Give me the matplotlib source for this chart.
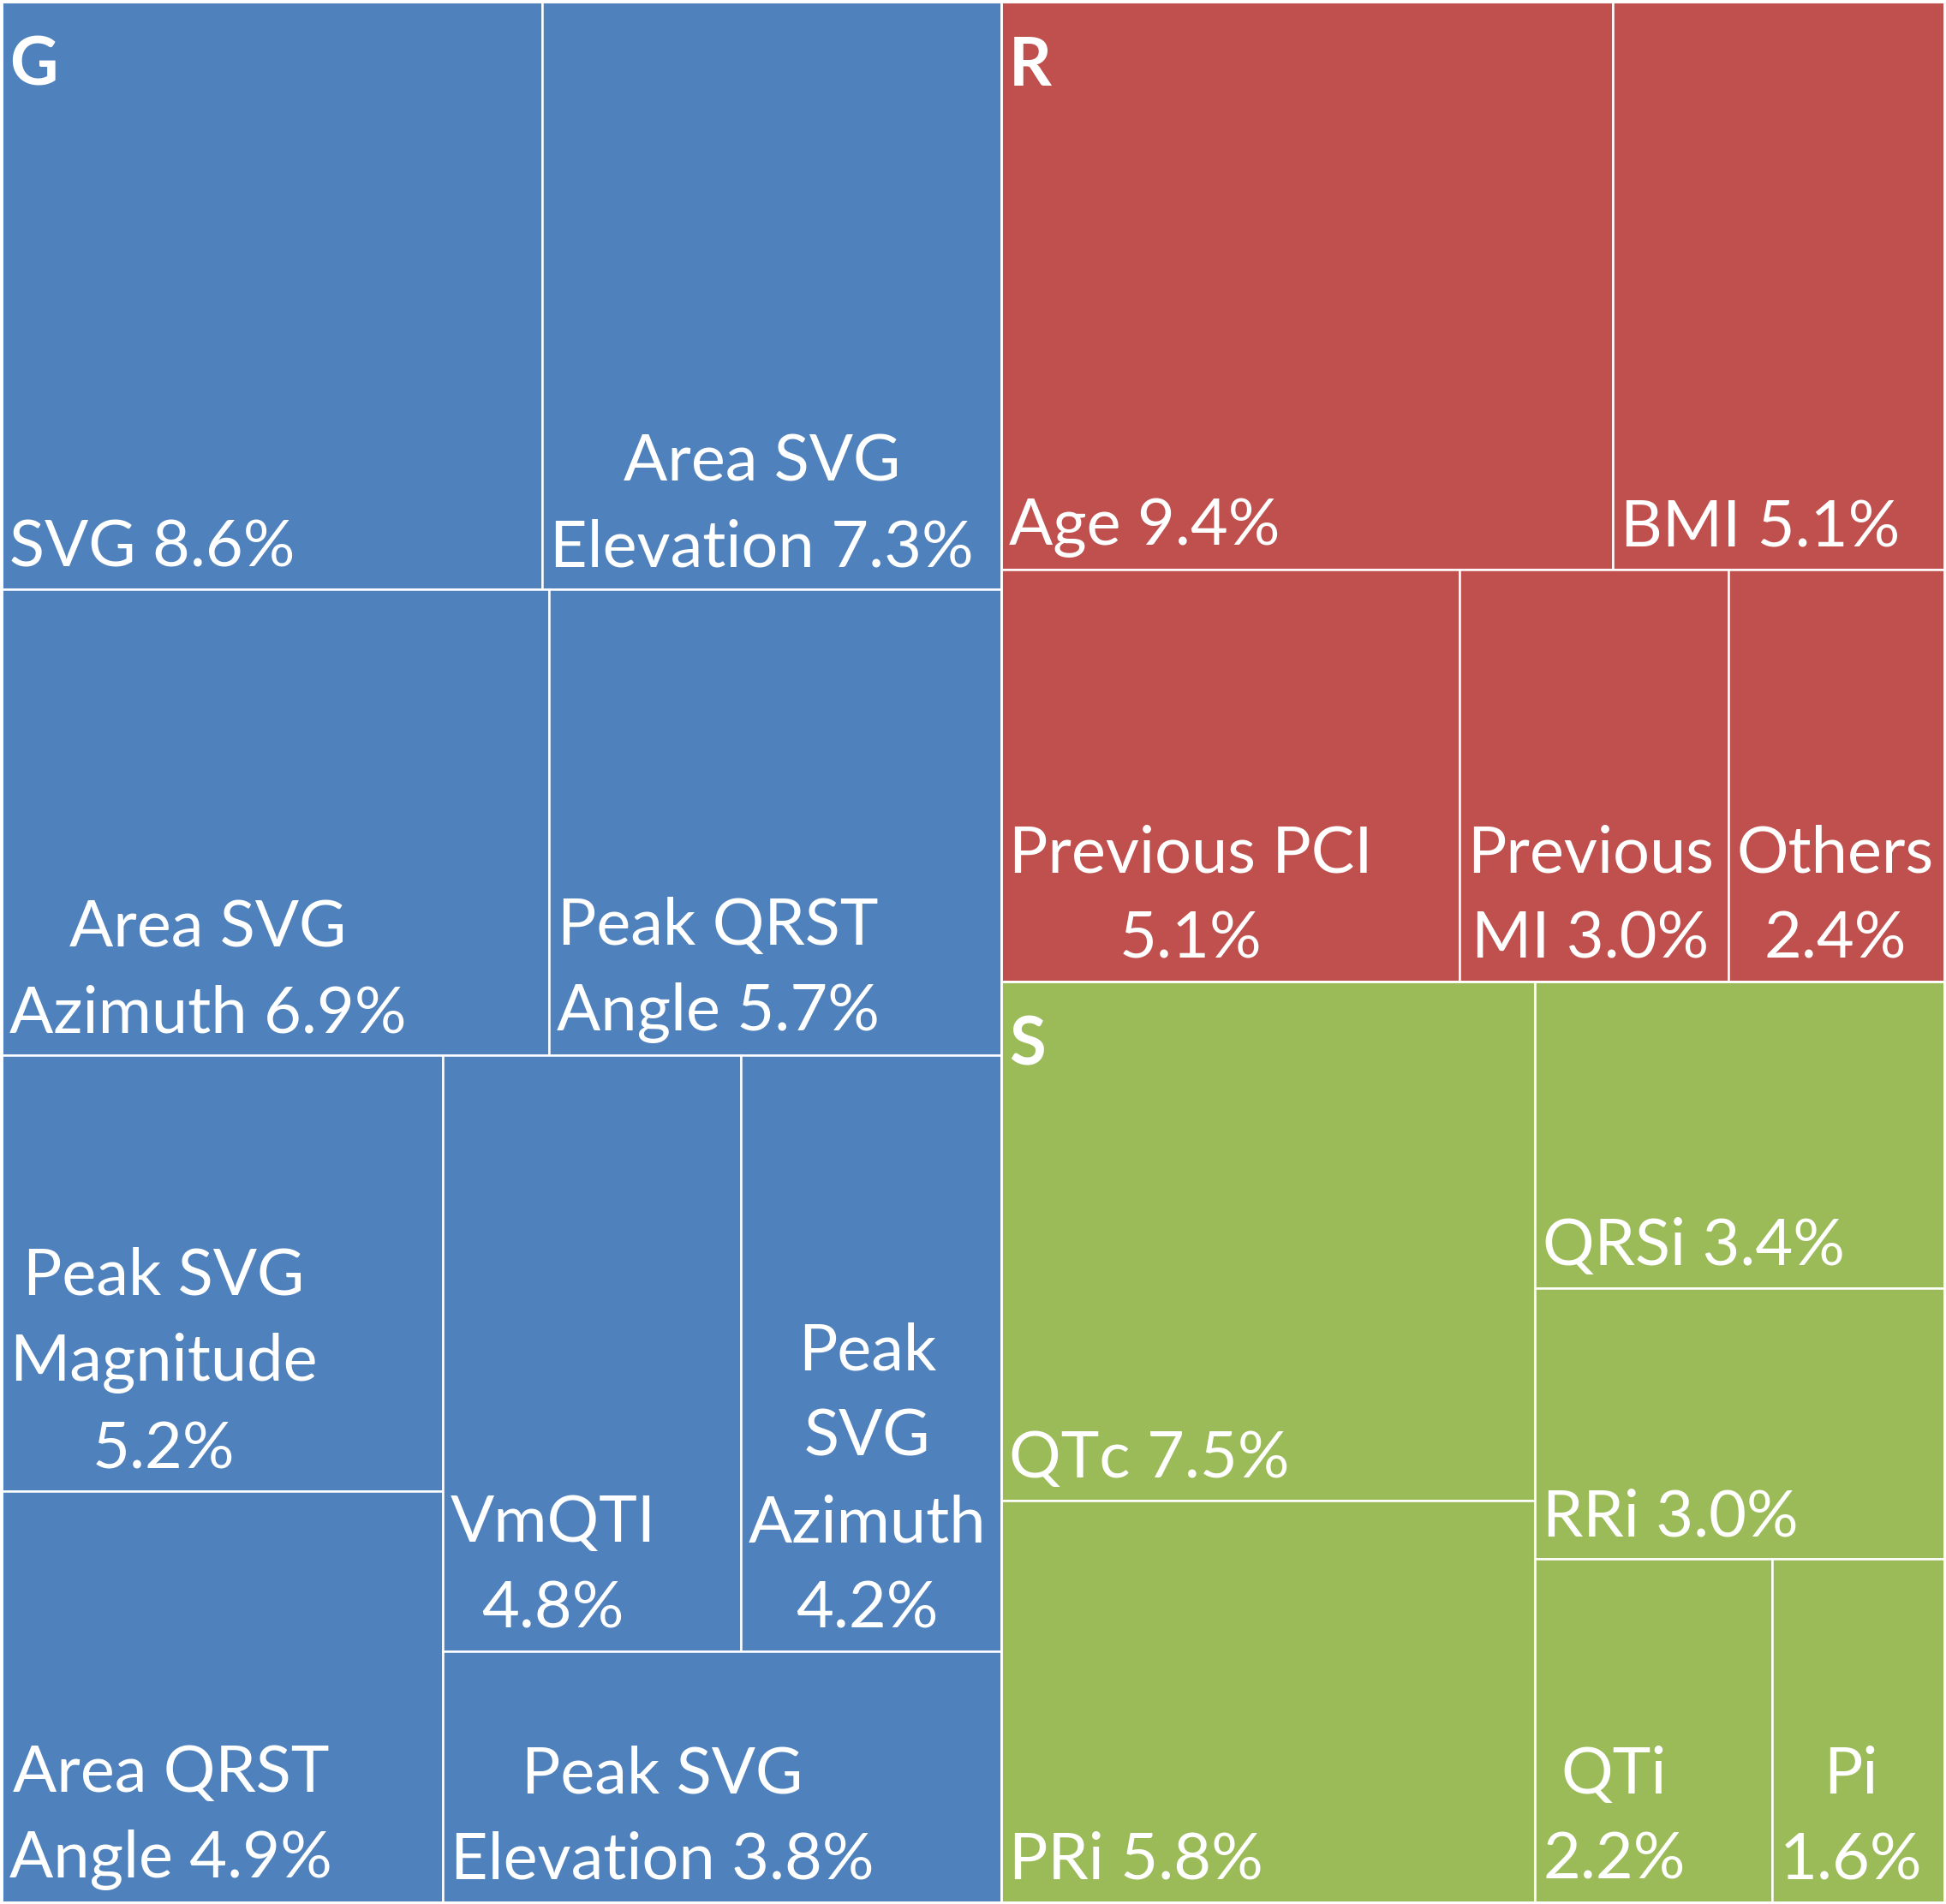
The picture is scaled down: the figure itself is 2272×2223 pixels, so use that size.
import matplotlib
matplotlib.use("Agg")
import matplotlib.pyplot as plt
from matplotlib.patches import Rectangle

# ---- data ----
groups = ["G", "R", "S"]
group_colors = ["#4F81BD", "#C0504D", "#9BBB59"]

G_labels = ["SVG {}", "Area SVG\nElevation {}", "Area SVG\nAzimuth {}",
            "Peak QRST\nAngle {}", "Peak SVG\nMagnitude\n{}", "Area QRST\nAngle {}",
            "VmQTI\n{}", "Peak\nSVG\nAzimuth\n{}", "Peak SVG\nElevation {}"]
G_values = [8.6, 7.3, 6.9, 5.7, 5.2, 4.9, 4.8, 4.2, 3.8]

R_labels = ["Age {}", "BMI {}", "Previous PCI\n{}", "Previous\nMI {}", "Others\n{}"]
R_values = [9.4, 5.1, 5.1, 3.0, 2.4]

S_labels = ["QTc {}", "PRi {}", "QRSi {}", "RRi {}", "QTi\n{}", "Pi\n{}"]
S_values = [7.5, 5.8, 3.4, 3.0, 2.2, 1.6]

# number of items placed in each successive strip of the layout
top_strips = [1, 1, 1]
G_strips = [2, 2, 2, 2, 1]
R_strips = [2, 1, 1, 1]
S_strips = [2, 1, 1, 1, 1]

W, H = 2272, 2223
FONT = ["Lato", "DejaVu Sans"]


def strip_layout(x, y, w, h, values, counts):
    """Squarified-style strip layout: each strip is laid along the shorter side."""
    rects = []
    total = float(sum(values))
    i = 0
    for c in counts:
        part = values[i:i + c]
        s = float(sum(part))
        frac = s / total
        if w >= h:  # vertical strip on the left
            sw = w * frac
            yy = y
            for v in part:
                vh = h * v / s
                rects.append((x, yy, sw, vh))
                yy += vh
            x += sw
            w -= sw
        else:  # horizontal strip on top
            sh = h * frac
            xx = x
            for v in part:
                vw = w * v / s
                rects.append((xx, y, vw, sh))
                xx += vw
            y += sh
            h -= sh
        total -= s
        i += c
    return rects


fig = plt.figure(figsize=(W / 100, H / 100), dpi=100)
fig.patch.set_facecolor("white")
ax = fig.add_axes([0, 0, 1, 1])
ax.set_xlim(0, W)
ax.set_ylim(H, 0)
ax.axis("off")

group_data = [(G_labels, G_values, G_strips),
              (R_labels, R_values, R_strips),
              (S_labels, S_values, S_strips)]
group_totals = [sum(v) for _, v, _ in group_data]
margin = 2
group_rects = strip_layout(margin, margin, W - 2 * margin, H - 2 * margin,
                           group_totals, top_strips)

for gname, color, (labels, values, strips), (gx, gy, gw, gh) in zip(
        groups, group_colors, group_data, group_rects):
    rects = strip_layout(gx, gy, gw, gh, values, strips)
    for lab, val, (x, y, w, h) in zip(labels, values, rects):
        ax.add_patch(Rectangle((x, y), w, h, facecolor=color,
                               edgecolor="white", linewidth=1.8))
        ax.text(x + 9, y + h - 14, lab.format(f"{val:.1f}%"),
                ha="left", va="bottom", multialignment="center",
                fontsize=54.5, color="white", family=FONT, linespacing=1.56)
    ax.add_patch(Rectangle((gx, gy), gw, gh, facecolor="none",
                           edgecolor="white", linewidth=1.8))
    ax.text(gx + 9, gy + 40, gname, ha="left", va="top",
            fontsize=56, fontweight="bold", color="white", family=FONT)

fig.savefig("out.png", dpi=100, facecolor="white")
